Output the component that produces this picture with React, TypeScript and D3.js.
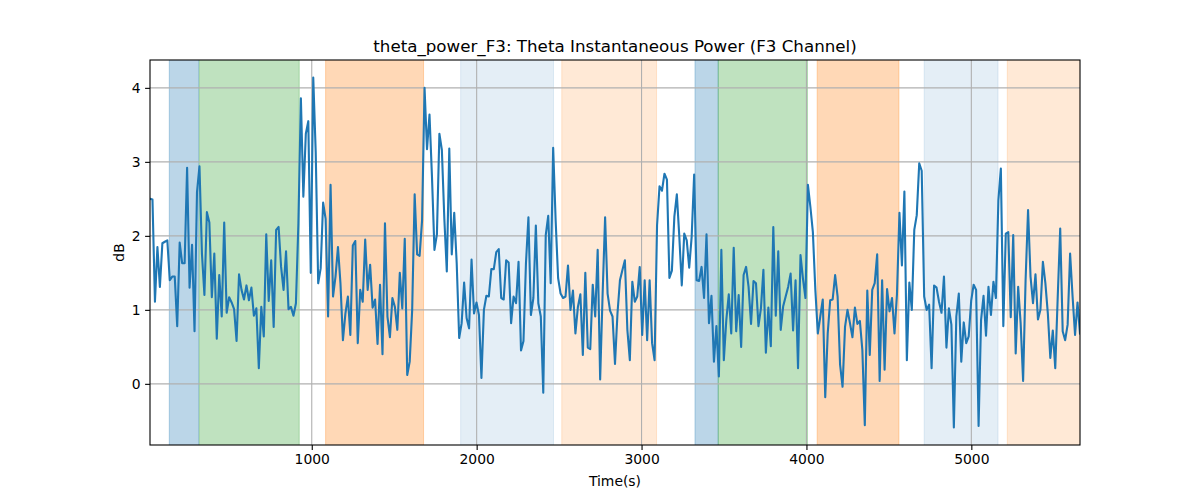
import { useEffect, useRef } from 'react';
import * as d3 from 'd3';

// sampling of the series (seconds)
const T0 = 19;
const DT = 15;

// theta power in dB
const power = [
  2.50, 2.49, 1.11, 1.85, 1.31, 1.90, 1.92, 1.94, 1.40, 1.45, 1.45, 0.78, 1.91, 1.63, 1.63, 2.92,
  1.30, 1.88, 0.71, 2.59, 2.94, 1.76, 1.20, 2.32, 2.18, 1.17, 1.76, 0.61, 1.47, 0.91, 2.18, 0.96,
  1.17, 1.10, 1.01, 0.58, 1.48, 1.27, 1.14, 1.33, 1.13, 1.30, 0.92, 1.02, 0.21, 1.04, 0.64, 2.02,
  1.12, 1.67, 0.77, 2.08, 2.12, 1.58, 1.27, 1.79, 1.01, 1.04, 0.92, 1.09, 2.17, 3.86, 2.53, 3.38,
  3.55, 1.50, 4.14, 3.13, 1.36, 1.56, 2.45, 2.23, 0.91, 2.69, 1.18, 1.45, 1.85, 1.36, 0.59, 0.95,
  1.18, 0.66, 1.87, 1.93, 0.55, 1.27, 1.11, 1.95, 1.27, 1.61, 1.03, 1.14, 0.54, 1.34, 0.40, 2.17,
  0.91, 0.63, 1.16, 1.04, 0.73, 1.50, 1.02, 1.96, 0.12, 0.30, 1.00, 2.56, 1.75, 1.73, 2.21, 4.00,
  3.17, 3.64, 2.80, 1.81, 2.02, 3.38, 3.16, 2.23, 1.52, 3.18, 1.75, 2.31, 1.63, 0.62, 0.82, 1.37,
  0.89, 0.75, 1.68, 0.95, 1.10, 0.93, 0.08, 1.00, 1.19, 1.18, 1.55, 1.55, 1.78, 1.82, 1.16, 1.14,
  1.67, 1.64, 0.82, 1.18, 1.09, 1.65, 0.45, 0.58, 1.63, 2.25, 0.93, 1.16, 2.14, 1.09, 0.91, -0.12,
  2.01, 2.27, 1.36, 3.19, 2.21, 1.43, 1.22, 1.16, 1.18, 1.60, 1.00, 1.26, 0.68, 1.04, 1.21, 0.39,
  1.50, 0.49, 0.47, 1.34, 0.91, 1.81, 0.06, 1.22, 2.25, 1.22, 0.99, 0.91, 0.27, 0.95, 1.40, 1.54,
  1.67, 0.73, 0.32, 1.38, 1.11, 1.18, 1.58, 0.66, 1.40, 0.59, 1.40, 0.55, 0.32, 2.14, 2.67, 2.61,
  2.84, 2.76, 1.43, 1.53, 2.26, 2.56, 1.99, 1.33, 2.03, 1.94, 1.57, 1.99, 2.83, 1.40, 1.39, 1.58,
  1.16, 2.02, 0.82, 1.19, 0.30, 0.78, 0.10, 1.81, 0.32, 0.86, 1.21, 0.68, 1.84, 0.71, 1.20, 0.50,
  1.47, 1.58, 1.31, 0.81, 1.39, 1.36, 0.78, 1.02, 1.54, 0.42, 1.03, 0.51, 2.12, 0.92, 1.79, 0.73,
  1.05, 1.18, 1.31, 1.49, 0.72, 1.40, 0.21, 1.74, 1.42, 1.16, 2.69, 2.39, 2.05, 1.27, 0.68, 0.91,
  1.14, -0.18, 0.68, 1.13, 1.14, 1.47, 1.18, 0.26, -0.04, 0.77, 1.00, 0.82, 0.63, 1.03, 0.81, 0.85,
  0.46, -0.56, 1.26, 0.39, 1.27, 1.36, 1.75, 0.04, 1.40, 0.19, 1.28, 0.98, 1.16, 0.68, 1.21, 2.31,
  1.60, 2.60, 0.32, 1.37, 1.00, 2.08, 2.28, 2.98, 2.88, 1.18, 1.00, 1.07, 0.21, 1.33, 1.30, 1.11,
  0.96, 1.45, 0.49, 1.02, 0.80, -0.59, 0.91, 1.22, 0.30, 0.83, 0.55, 0.64, 1.12, 1.34, 1.27, -0.57,
  0.86, 1.19, 0.65, 1.31, 0.93, 1.38, 1.16, 2.48, 2.91, 0.78, 2.03, 2.05, 0.90, 2.01, 0.41, 1.31,
  0.82, 0.04, 1.40, 2.35, 1.45, 1.09, 1.48, 0.87, 1.00, 1.65, 1.36, 0.95, 0.35, 0.72, 0.21, 1.18,
  2.10, 0.71, 0.59, 0.80, 1.76, 1.18, 0.66, 1.10, 0.68,
];

// shaded phases (seconds)
const spanStarts = [136, 318, 1084, 1903, 2516, 3324, 3465, 4065, 4714, 5218];
const spanEnds = [314, 924, 1678, 2466, 3091, 3465, 4006, 4561, 5162, 5700];
const spanKinds = ['a', 'b', 'c', 'd', 'e', 'a', 'b', 'c', 'd', 'e'];

const xTicks = [1000, 2000, 3000, 4000, 5000];
const yTicks = [0, 1, 2, 3, 4];

const spanStyle: Record<string, { color: string; alpha: number }> = {
  a: { color: '#1f77b4', alpha: 0.3 },
  b: { color: '#2ca02c', alpha: 0.3 },
  c: { color: '#ff7f0e', alpha: 0.3 },
  d: { color: '#1f77b4', alpha: 0.12 },
  e: { color: '#ff7f0e', alpha: 0.17 },
};

export default function App() {
  const svgRef = useRef<SVGSVGElement>(null);

  useEffect(() => {
    document.body.style.margin = '0';
    if (!svgRef.current) return;

    const svg = d3.select(svgRef.current);
    svg.selectAll('*').remove();

    const width = 1200;
    const height = 500;
    const margin = { top: 60, right: 120, bottom: 55, left: 150 };
    const font = 'DejaVu Sans, sans-serif';

    const data = power.map((v, i) => ({ t: T0 + i * DT, v }));
    const tMax = data[data.length - 1].t;

    const [lo, hi] = d3.extent(power) as [number, number];
    const pad = (hi - lo) * 0.05;

    const xScale = d3.scaleLinear().domain([T0, tMax]).range([margin.left, width - margin.right]);
    const yScale = d3
      .scaleLinear()
      .domain([lo - pad, hi + pad])
      .range([height - margin.bottom, margin.top]);

    svg.append('rect').attr('width', width).attr('height', height).attr('fill', '#fff');

    const clipId = 'plot-clip';
    svg
      .append('clipPath')
      .attr('id', clipId)
      .append('rect')
      .attr('x', margin.left)
      .attr('y', margin.top)
      .attr('width', width - margin.left - margin.right)
      .attr('height', height - margin.top - margin.bottom);

    const plot = svg.append('g').attr('clip-path', `url(#${clipId})`);

    // Phase spans
    spanStarts.forEach((s, i) => {
      const st = spanStyle[spanKinds[i]];
      const x0 = xScale(s);
      const x1 = xScale(spanEnds[i]);
      plot
        .append('rect')
        .attr('x', x0)
        .attr('y', margin.top - 2)
        .attr('width', x1 - x0)
        .attr('height', height - margin.top - margin.bottom + 4)
        .attr('fill', st.color)
        .attr('fill-opacity', st.alpha)
        .attr('stroke', st.color)
        .attr('stroke-opacity', st.alpha)
        .attr('stroke-width', 1);
    });

    // Grid
    xTicks.forEach((t) => {
      plot
        .append('line')
        .attr('x1', xScale(t))
        .attr('x2', xScale(t))
        .attr('y1', margin.top)
        .attr('y2', height - margin.bottom)
        .attr('stroke', '#b0b0b0')
        .attr('stroke-width', 1.1);
    });
    yTicks.forEach((t) => {
      plot
        .append('line')
        .attr('x1', margin.left)
        .attr('x2', width - margin.right)
        .attr('y1', yScale(t))
        .attr('y2', yScale(t))
        .attr('stroke', '#b0b0b0')
        .attr('stroke-width', 1.1);
    });

    // Series
    const line = d3
      .line<{ t: number; v: number }>()
      .x((d) => xScale(d.t))
      .y((d) => yScale(d.v));

    plot
      .append('path')
      .datum(data)
      .attr('d', line)
      .attr('fill', 'none')
      .attr('stroke', '#1f77b4')
      .attr('stroke-width', 2.1)
      .attr('stroke-linejoin', 'round')
      .attr('stroke-linecap', 'square');

    // Axes
    const xAxis = svg
      .append('g')
      .attr('transform', `translate(0,${height - margin.bottom})`)
      .call(d3.axisBottom(xScale).tickValues(xTicks).tickSize(4.9).tickPadding(4.5).tickFormat(d3.format('d')));
    xAxis.select('.domain').remove();

    const yAxis = svg
      .append('g')
      .attr('transform', `translate(${margin.left},0)`)
      .call(d3.axisLeft(yScale).tickValues(yTicks).tickSize(4.9).tickPadding(4.5).tickFormat(d3.format('d')));
    yAxis.select('.domain').remove();

    [xAxis, yAxis].forEach((ax) => {
      ax.selectAll('text').attr('font-family', font).attr('font-size', 13.9).attr('fill', '#000');
      ax.selectAll('line').attr('stroke', '#000').attr('stroke-width', 1.1);
    });

    // Frame
    svg
      .append('rect')
      .attr('x', margin.left)
      .attr('y', margin.top)
      .attr('width', width - margin.left - margin.right)
      .attr('height', height - margin.top - margin.bottom)
      .attr('fill', 'none')
      .attr('stroke', '#000')
      .attr('stroke-width', 1.1);

    // Labels
    svg
      .append('text')
      .attr('x', (margin.left + width - margin.right) / 2)
      .attr('y', margin.top - 8.3)
      .attr('text-anchor', 'middle')
      .attr('font-family', font)
      .attr('font-size', 16.7)
      .text('theta_power_F3: Theta Instantaneous Power (F3 Channel)');

    svg
      .append('text')
      .attr('x', (margin.left + width - margin.right) / 2)
      .attr('y', 486)
      .attr('text-anchor', 'middle')
      .attr('font-family', font)
      .attr('font-size', 13.9)
      .text('Time(s)');

    svg
      .append('text')
      .attr('transform', `translate(124,${(margin.top + height - margin.bottom) / 2}) rotate(-90)`)
      .attr('text-anchor', 'middle')
      .attr('font-family', font)
      .attr('font-size', 13.9)
      .text('dB');
  }, []);

  return <svg ref={svgRef} width={1200} height={500} style={{ display: 'block' }} />;
}
